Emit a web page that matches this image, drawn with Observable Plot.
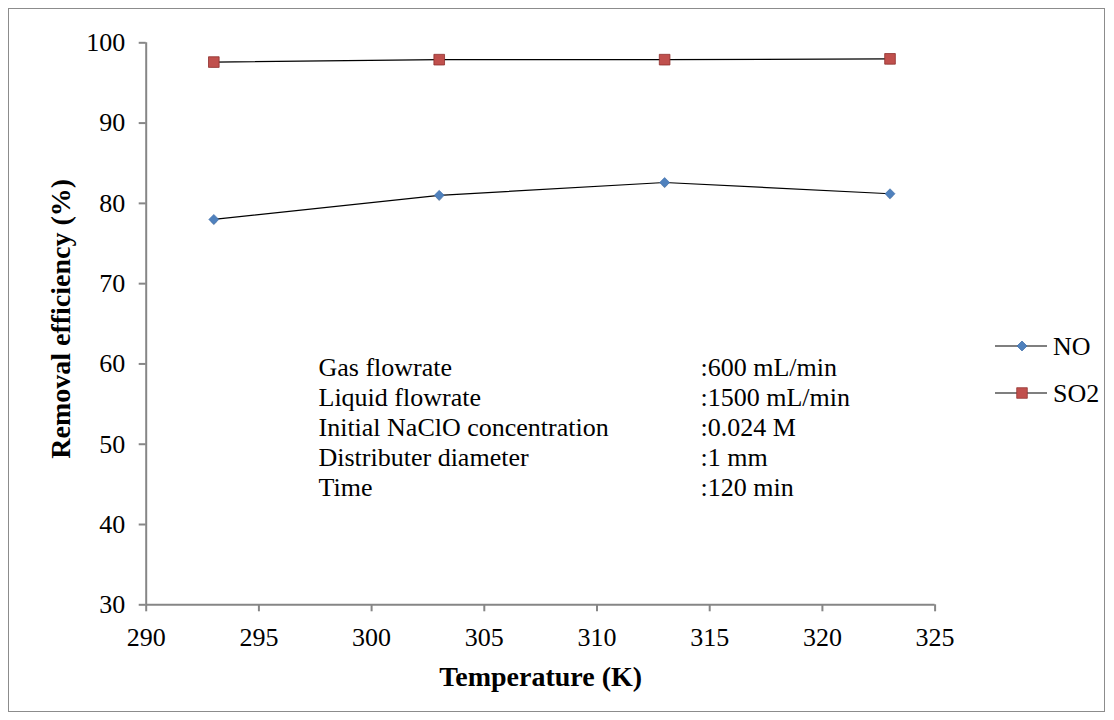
<!DOCTYPE html>
<html>
<head>
<meta charset="utf-8">
<script src="https://cdn.jsdelivr.net/npm/d3@7"></script>
<script src="https://cdn.jsdelivr.net/npm/@observablehq/plot@0.6"></script>
<style>
  html, body { margin: 0; padding: 0; background: #fff; }
  #wrap { position: relative; width: 1114px; height: 720px; font-family: "Liberation Serif", "Times New Roman", serif; }
  #border { position: absolute; left: 8px; top: 8px; width: 1097px; height: 704px; border: 1px solid #8c8c8c; box-sizing: border-box; pointer-events: none; }
  #legend { position: absolute; left: 980px; top: 320px; }
</style>
</head>
<body>
<div id="wrap"><div id="border"></div></div>
<script>
// Data
const temperatures = [293, 303, 313, 323];
const noValues = [78.0, 81.0, 82.6, 81.2];
const so2Values = [97.6, 97.9, 97.9, 98.0];
const seriesNames = ["NO", "SO2"];
const seriesColors = ["#4f81bd", "#c0504d"];
const seriesStrokes = ["#3a6aa6", "#8e2f2c"];
const seriesSymbols = ["diamond2", "square"];
const xTicks = [290, 295, 300, 305, 310, 315, 320, 325];
const yTicks = [30, 40, 50, 60, 70, 80, 90, 100];
const paramLabels = ["Gas flowrate", "Liquid flowrate", "Initial NaClO concentration", "Distributer diameter", "Time"];
const paramValues = [":600 mL/min", ":1500 mL/min", ":0.024 M", ":1 mm", ":120 min"];

const rows = [];
temperatures.forEach((t, i) => {
  rows.push({series: "NO", T: t, v: noValues[i]});
  rows.push({series: "SO2", T: t, v: so2Values[i]});
});

const axisGray = "#868686";
const fontStack = '"Liberation Serif", "Times New Roman", serif';
const dotR = [4.5, 6];

const chart = Plot.plot({
  width: 1114,
  height: 720,
  marginLeft: 145.7,
  marginRight: 179.4,
  marginTop: 42.3,
  marginBottom: 115.7,
  style: {fontFamily: fontStack, fontSize: "26px", color: "#000", background: "transparent"},
  x: {domain: [290, 325], ticks: xTicks, label: null},
  y: {domain: [30, 100], ticks: yTicks, label: null},
  color: {domain: seriesNames, range: seriesColors},
  symbol: {domain: seriesNames, range: seriesSymbols},
  marks: [
    // axis ticks (labels drawn separately as serif text marks)
    Plot.axisX({ticks: xTicks, tickSize: 7, tickFormat: () => "", stroke: axisGray, strokeWidth: 2, label: null}),
    Plot.axisY({ticks: yTicks, tickSize: 7, tickFormat: () => "", stroke: axisGray, strokeWidth: 2, label: null}),
    Plot.text(xTicks, {x: d => d, frameAnchor: "bottom", dy: 22.5, lineAnchor: "top", textAnchor: "middle", fontSize: 26, fill: "#000"}),
    Plot.text(yTicks, {y: d => d, frameAnchor: "left", dx: -21, textAnchor: "end", lineAnchor: "middle", fontSize: 26, fill: "#000"}),
    Plot.ruleY([30], {stroke: axisGray, strokeWidth: 2}),
    Plot.ruleX([290], {stroke: axisGray, strokeWidth: 2}),
    Plot.line(rows, {x: "T", y: "v", z: "series", stroke: "#000", strokeWidth: 1.2}),
    // soft shadows under markers
    Plot.dot(rows, {x: "T", y: "v", symbol: "series", fill: "#000", fillOpacity: 0.18, r: d => d.series === "NO" ? dotR[0] + 1 : dotR[1] + 1, dy: 2.5}),
    Plot.dot(rows.filter(d => d.series === "NO"), {x: "T", y: "v", symbol: "series", fill: "series", stroke: seriesStrokes[0], strokeWidth: 0.6, r: dotR[0]}),
    Plot.dot(rows.filter(d => d.series === "SO2"), {x: "T", y: "v", symbol: "series", fill: "series", stroke: seriesStrokes[1], strokeWidth: 0.8, r: dotR[1]}),
    Plot.text([paramLabels.join("\n")], {frameAnchor: "top-left", dx: 172.3, dy: 312, textAnchor: "start", lineAnchor: "top", lineHeight: 30 / 26, fontSize: 26, fill: "#000"}),
    Plot.text([paramValues.join("\n")], {frameAnchor: "top-left", dx: 554.3, dy: 312, textAnchor: "start", lineAnchor: "top", lineHeight: 30 / 26, fontSize: 26, fill: "#000"}),
    Plot.text(["Temperature (K)"], {frameAnchor: "bottom", dy: 81, textAnchor: "middle", lineAnchor: "bottom", fontSize: 28, fontWeight: "bold", fill: "#000"}),
    Plot.text(["Removal efficiency (%)"], {frameAnchor: "left", dx: -85, dy: -5, textAnchor: "middle", lineAnchor: "middle", rotate: -90, fontSize: 28, fontWeight: "bold", fill: "#000"})
  ]
});
document.getElementById("wrap").appendChild(chart);

// Legend
const lg = d3.select("#wrap").append("svg")
  .attr("id", "legend").attr("width", 130).attr("height", 100)
  .style("font-family", fontStack).style("font-size", "26px");
const symGen = d3.symbol();
const symMap = {diamond2: d3.symbolDiamond2, square: d3.symbolSquare};
seriesNames.forEach((name, i) => {
  const y = 26 + i * 47;
  lg.append("line").attr("x1", 15).attr("x2", 67).attr("y1", y).attr("y2", y).attr("stroke", "#000").attr("stroke-width", 1.2);
  lg.append("path").attr("d", symGen.type(symMap[seriesSymbols[i]]).size(Math.PI * dotR[i] * dotR[i])())
    .attr("transform", `translate(42,${y})`).attr("fill", seriesColors[i]).attr("stroke", seriesStrokes[i]).attr("stroke-width", 0.7);
  lg.append("text").attr("x", 73).attr("y", y).attr("dy", "0.34em").text(name);
});
</script>
</body>
</html>
